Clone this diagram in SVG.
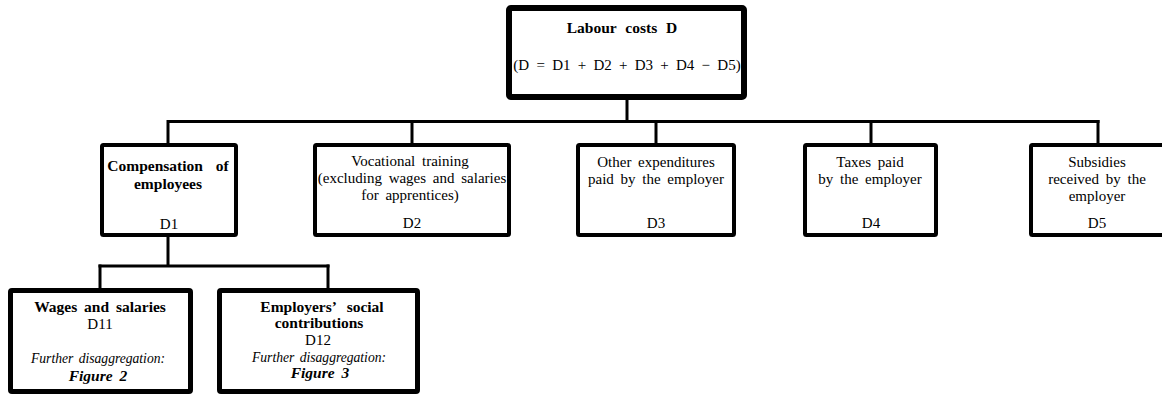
<svg xmlns="http://www.w3.org/2000/svg" width="1162" height="394" viewBox="0 0 1162 394">
<style>
  .box { fill: #ffffff; stroke: #000000; stroke-linejoin: round; }
  .top { stroke-width: 6; }
  .mid { stroke-width: 4; }
  .low { stroke-width: 5; }
  .conn line { stroke: #000000; stroke-width: 3; }
  text { font-family: "Liberation Serif", "Times New Roman", serif; font-size: 15px; fill: #000000; text-anchor: middle; word-spacing: 3px; }
  .b { font-weight: bold; font-size: 15.5px; }
  .i { font-style: italic; font-size: 13.6px; word-spacing: 2px; }
  .bi { font-weight: bold; font-style: italic; font-size: 15.5px; }
</style>
<rect width="1162" height="394" fill="#ffffff"/>
<g id="connectors" class="conn">
  <line x1="627" y1="98" x2="627" y2="121.5"/>
  <line x1="168" y1="121.5" x2="1099.5" y2="121.5"/>
  <line x1="168" y1="120" x2="168" y2="145"/>
  <line x1="412" y1="120" x2="412" y2="145"/>
  <line x1="656" y1="120" x2="656" y2="145"/>
  <line x1="871" y1="120" x2="871" y2="145"/>
  <line x1="1098" y1="120" x2="1098" y2="145"/>
  <line x1="168" y1="235" x2="168" y2="266"/>
  <line x1="98.5" y1="266" x2="329.5" y2="266"/>
  <line x1="100" y1="264.5" x2="100" y2="290"/>
  <line x1="328" y1="264.5" x2="328" y2="290"/>
</g>
<g id="node-D">
  <rect class="box top" x="509" y="8" width="235" height="89" rx="2"/>
  <text class="b" x="622" y="33" style="word-spacing:5px">Labour costs D</text>
  <text x="627" y="70" style="word-spacing:3.5px">(D = D1 + D2 + D3 + D4 − D5)</text>
</g>
<g id="node-D1">
  <rect class="box mid" x="102" y="145" width="134" height="90" rx="1.5"/>
  <text class="b" x="168" y="171" style="word-spacing:9px">Compensation of</text>
  <text class="b" x="168" y="189">employees</text>
  <text x="169" y="229">D1</text>
</g>
<g id="node-D2">
  <rect class="box mid" x="315" y="145" width="194" height="90" rx="1.5"/>
  <text x="410" y="166">Vocational training</text>
  <text x="412" y="183">(excluding wages and salaries</text>
  <text x="410" y="200">for apprentices)</text>
  <text x="412" y="228">D2</text>
</g>
<g id="node-D3">
  <rect class="box mid" x="578" y="145" width="156" height="90" rx="1.5"/>
  <text x="656" y="167">Other expenditures</text>
  <text x="656" y="184">paid by the employer</text>
  <text x="656" y="228">D3</text>
</g>
<g id="node-D4">
  <rect class="box mid" x="805" y="145" width="131" height="90" rx="1.5"/>
  <text x="870" y="167">Taxes paid</text>
  <text x="870" y="184">by the employer</text>
  <text x="871" y="228">D4</text>
</g>
<g id="node-D5">
  <rect class="box mid" x="1031" y="145" width="134" height="90" rx="1.5"/>
  <text x="1097" y="167">Subsidies</text>
  <text x="1097" y="184">received by the</text>
  <text x="1097" y="201">employer</text>
  <text x="1097" y="228">D5</text>
</g>
<g id="node-D11">
  <rect class="box low" x="10.5" y="290.5" width="180" height="101" rx="1.5"/>
  <text class="b" x="100" y="312">Wages and salaries</text>
  <text x="100" y="329">D11</text>
  <text class="i" x="98" y="363">Further disaggregation:</text>
  <text class="bi" x="98" y="381">Figure 2</text>
</g>
<g id="node-D12">
  <rect class="box low" x="219.5" y="290.5" width="198" height="101" rx="1.5"/>
  <text class="b" x="322" y="312" style="word-spacing:7px">Employers’ social</text>
  <text class="b" x="319" y="328">contributions</text>
  <text x="318" y="345">D12</text>
  <text class="i" x="319" y="362">Further disaggregation:</text>
  <text class="bi" x="320" y="378">Figure 3</text>
</g>
</svg>
